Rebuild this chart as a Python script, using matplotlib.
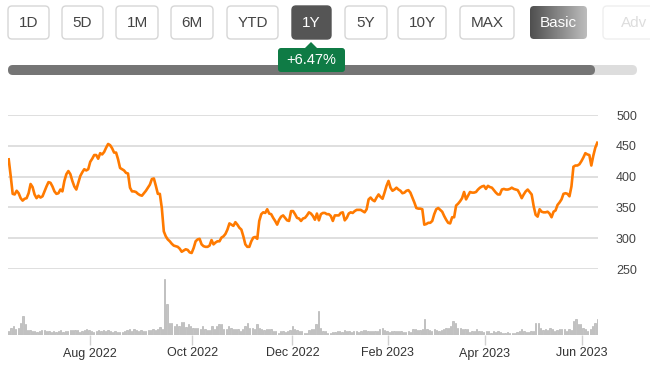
import numpy as np
import matplotlib
matplotlib.use('Agg')
import matplotlib.pyplot as plt
from matplotlib.patches import FancyBboxPatch, Polygon

plt.rcParams['font.family'] = ['Liberation Sans', 'DejaVu Sans']

# closing price, roughly every trading day (Jun 2022 - Jun 2023)
price = [
    428, 401, 372, 371, 377, 373, 365, 361, 364, 365, 373, 388, 383, 371, 365, 369, 366, 368,
    376, 384, 391, 390, 384, 376, 372, 373, 379, 376, 393, 404, 409, 404, 393, 384, 379, 390,
    401, 407, 412, 410, 412, 424, 429, 435, 435, 429, 438, 436, 440, 447, 453, 451, 446, 439,
    439, 428, 414, 412, 410, 406, 405, 382, 376, 376, 375, 372, 370, 369, 373,
    377, 382, 387, 396, 397, 385, 372, 372, 349, 311, 303, 298, 295, 291, 288, 287, 286, 283,
    278, 280, 282, 281, 277, 276, 284, 295, 298, 299, 290, 287, 286, 286, 288, 297, 290, 293,
    295, 295, 301, 303, 307, 314, 324, 322, 320, 326, 322, 317, 314, 303, 290, 286, 286, 295,
    301, 302, 299, 328, 339, 342, 341, 347, 340, 339, 333, 328, 322, 330, 335, 337, 333, 329, 328,
    344, 344, 339, 333, 332, 328, 332, 333, 337, 342, 340, 336, 330, 340, 329, 339, 341, 341,
    339, 339, 336, 328, 337, 337, 337, 341, 342, 329, 333, 340, 342, 341, 344, 346, 346, 346,
    344, 342, 347, 363, 366, 362, 360, 366, 371, 367, 364, 374, 385, 393, 382, 377, 379, 382,
    379, 377, 373, 374, 377, 378, 374, 366, 358, 349, 348, 348, 347, 322, 323, 325, 325, 328,
    339, 347, 349,
    346, 343, 336, 330, 325, 324, 334, 334, 353, 356, 360, 365, 375, 363, 369, 375, 374, 374,
    375, 379, 382, 384, 385, 380, 385, 383, 382, 378, 374, 371, 371, 379, 380, 379, 379, 380,
    382, 380, 379, 378, 372, 365, 371, 376, 379, 375, 371, 352, 338, 335, 347, 343, 342, 342,
    343, 340, 334, 343, 345, 354, 358, 363, 372, 373, 372, 368, 384, 416, 418, 418, 420, 425,
    431, 438, 436, 435, 418, 434, 447, 455,
]

# daily volume (relative units)
volume = [
    4, 7, 9, 6, 7, 12, 19, 11,
    5, 5, 4, 4, 3, 4, 5, 5, 4, 4, 3, 4, 3, 4, 5, 3, 4,
    4, 5, 5, 5, 5, 3, 4, 5, 6, 5, 4, 3, 4, 5, 4, 5, 4, 5, 4, 3, 4,
    3, 3, 3, 4, 5, 6, 4,
    6, 5, 4, 5, 4, 4, 5, 5, 6, 5, 6, 8, 6,
    56, 31,
    12, 12, 9, 11, 9, 13, 13, 8, 11, 9, 7, 7,
    7, 6, 9, 6, 5, 5, 9, 6, 9, 11, 11, 6, 6, 9, 7, 6, 6, 6, 4, 6, 9, 12, 7, 7, 6, 11,
    7, 6, 5, 6, 6, 6, 4, 4, 2, 4, 4, 3, 4, 5, 9, 6, 5, 4, 4, 2, 2, 5, 6, 6, 11,
    24,
    7, 4, 4, 2, 2, 3, 3, 4, 4, 3, 5, 4, 4, 3, 4, 4, 3, 4, 5, 5, 4, 4, 4, 4, 4, 6, 7, 5,
    4, 3, 4, 4,
    4, 4, 4, 3, 3, 4, 3, 6, 6, 5, 5, 6, 16, 6, 5, 4, 6, 5, 4, 5, 6, 7, 7, 9, 14, 12, 7, 7, 6, 6,
    6, 3, 4, 4, 6, 4, 4, 3, 4, 4, 2, 4, 3, 4, 3, 2, 2, 3, 2, 2, 2, 3, 4, 6, 4, 3, 3, 4, 4,
    12, 12, 7, 5, 6, 5, 7, 6, 4, 5, 6, 6, 6, 4, 6, 5,
    14, 16, 11, 11, 7, 6, 4, 6, 9, 12, 16,
]

month_labels = ['Aug 2022', 'Oct 2022', 'Dec 2022', 'Feb 2023', 'Apr 2023', 'Jun 2023']
month_idx = [34.2, 77.6, 120.0, 160.4, 201.4, 242.6]
price_ticks = [250, 300, 350, 400, 450, 500]

periods = ['1D', '5D', '1M', '6M', 'YTD', '1Y', '5Y', '10Y', 'MAX', 'Basic', 'Adv']
change_label = '+6.47%'

W, H = 650, 369
fig = plt.figure(figsize=(W / 100, H / 100), dpi=100)

# ---- top controls (pixel coordinates) ----
ui = fig.add_axes([0, 0, 1, 1])
ui.set_xlim(0, W)
ui.set_ylim(H, 0)
ui.axis('off')

btn_x = [(8, 49), (62, 103), (116, 158), (171, 213), (227, 278), (292, 331),
         (345, 387), (398, 446), (460, 514), (530, 587), (603, 665)]
for (x0, x1), lab in zip(btn_x, periods):
    if lab == '1Y':
        fc, ec, tc = '#555555', '#555555', 'white'
    elif lab == 'Basic':
        fc, ec, tc = 'none', 'none', 'white'
    elif lab == 'Adv':
        fc, ec, tc = 'white', '#efefef', '#dddddd'
    else:
        fc, ec, tc = 'white', '#d6d6d6', '#444444'
    box = FancyBboxPatch((x0, 6), x1 - x0, 33, boxstyle='round,pad=0,rounding_size=4',
                         fc=fc, ec=ec, lw=1)
    ui.add_patch(box)
    if lab == 'Basic':
        grad = np.linspace(0, 1, 100).reshape(1, -1)
        im = ui.imshow(grad, extent=[x0, x1, 39, 6], cmap=matplotlib.colors.LinearSegmentedColormap.from_list('g', ['#4f4f4f', '#bdbdbd']),
                       aspect='auto', zorder=2)
        im.set_clip_path(box)
    ui.text((x0 + x1) / 2, 23, lab, ha='center', va='center', fontsize=11, color=tc, zorder=3)

# progress bar
ui.add_patch(FancyBboxPatch((8, 65), 629, 10, boxstyle='round,pad=0,rounding_size=5',
                            fc='#dddddd', ec='none'))
ui.add_patch(FancyBboxPatch((8, 65), 587, 10, boxstyle='round,pad=0,rounding_size=5',
                            fc='#757575', ec='none'))
# change tooltip
ui.add_patch(FancyBboxPatch((278, 48), 67, 24, boxstyle='round,pad=0,rounding_size=3',
                            fc='#0f7b45', ec='none', zorder=4))
ui.add_patch(Polygon([(304, 49), (311, 42), (318, 49)], closed=True, fc='#0f7b45', ec='none', zorder=4))
ui.text(311.5, 60.5, change_label, ha='center', va='center', fontsize=10.5, color='white', zorder=5)

# ---- price line ----
n = len(volume)
xp = np.linspace(0, n - 1, len(price))

ax = fig.add_axes([8 / W, 1 - 269 / H, 590 / W, 154 / H])
ax.set_facecolor('none')
ax.plot(xp, price, color='#ff7a00', lw=1.9, solid_joinstyle='round', zorder=3)
ax.set_xlim(-0.3, n - 0.7)
ax.set_ylim(250, 500)
ax.set_yticks(price_ticks)
ax.yaxis.tick_right()
ax.tick_params(axis='y', length=0, pad=13, labelsize=9, labelcolor='#444444')
ax.tick_params(axis='x', length=0, labelbottom=False)
ax.grid(axis='y', color='#dcdcdc', lw=1.3)
ax.set_axisbelow(True)
for s in ax.spines.values():
    s.set_visible(False)

# ---- volume bars ----
axv = fig.add_axes([8 / W, 1 - 335 / H, 590 / W, 56 / H])
axv.set_facecolor('none')
axv.bar(np.arange(n), volume, width=0.55, color='#c4c4c4', edgecolor='#a8a8a8', lw=0.4)
axv.set_xlim(-0.3, n - 0.7)
axv.set_ylim(0, 56)
axv.set_yticks([])
axv.set_xticks(month_idx)
axv.set_xticklabels(month_labels)
axv.tick_params(axis='x', length=7.5, width=1, color='#d0d0d0', pad=1.5,
                labelsize=9, labelcolor='#333333')
for s in axv.spines.values():
    s.set_visible(False)

fig.savefig('out.png', dpi=100)
